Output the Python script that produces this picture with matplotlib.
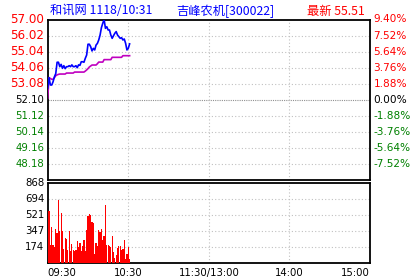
import matplotlib
matplotlib.use("Agg")
import matplotlib.pyplot as plt
import numpy as np

# minute-by-minute data, 09:30 -> 10:31
price = [52.8, 53.45, 53.0, 53.0, 53.2, 53.5, 53.7, 54.39, 54.39, 54.12,
         54.26, 54.02, 54.18, 54.0, 54.12, 54.12, 54.18, 54.12, 54.23, 54.12,
         54.12, 54.18, 54.06, 54.23, 54.2, 54.42, 54.42, 54.39, 54.63, 54.83,
         55.49, 55.49, 55.34, 55.08, 55.24, 55.14, 55.44, 55.54, 55.75, 56.05,
         56.50, 56.77, 57.0, 56.46, 56.56, 56.36, 56.36, 56.05, 55.85, 56.01,
         56.16, 56.26, 56.05, 55.95, 55.85, 55.89, 55.75, 55.81, 55.55, 55.14,
         55.24, 55.51]
avg_price = [52.2, 53.45, 53.40, 53.35, 53.35, 53.45, 53.57, 53.62, 53.65, 53.67,
             53.67, 53.67, 53.67, 53.67, 53.73, 53.73, 53.73, 53.73, 53.73, 53.73,
             53.79, 53.79, 53.79, 53.79, 53.79, 53.79, 53.79, 53.79, 53.85, 53.92,
             54.0, 54.10, 54.16, 54.22, 54.22, 54.22, 54.22, 54.30, 54.40, 54.40,
             54.40, 54.40, 54.55, 54.55, 54.55, 54.55, 54.55, 54.55, 54.69, 54.69,
             54.69, 54.69, 54.69, 54.69, 54.69, 54.69, 54.79, 54.79, 54.79, 54.79,
             54.79, 54.79]
volume = [868, 564, 195, 390, 195, 174, 369, 325, 683, 347,
          542, 347, 152, 271, 260, 141, 347, 130, 206, 141,
          130, 141, 239, 174, 217, 130, 184, 250, 130, 358,
          510, 532, 521, 445, 434, 98, 217, 184, 358, 336,
          369, 250, 293, 629, 195, 195, 184, 174, 293, 119,
          54, 87, 163, 184, 184, 141, 152, 250, 43, 98,
          174, 43]

prev_close = 52.10
step = 0.98
vol_max = 868
time_labels = ["09:30", "10:30", "11:30/13:00", "14:00", "15:00"]
time_pos = [0, 60, 120, 180, 240]

cjk = ["Noto Sans CJK SC", "DejaVu Sans"]
RED = "#ff0000"
GREEN = "#008000"
BLUE = "#0000ff"

fig = plt.figure(figsize=(4.2, 2.8), dpi=100)
fig.patch.set_facecolor("white")

W, H = 420.0, 280.0
x0, x1 = 47.7 / W, 370 / W
ax = fig.add_axes([x0, 1 - 180 / H, x1 - x0, (180 - 19.5) / H])
axv = fig.add_axes([x0, 1 - 263.3 / H, x1 - x0, (263.3 - 183.3) / H])

t = np.arange(len(price))

# price panel
levels = [prev_close + k * step for k in range(-5, 6)]
ax.set_xlim(0, 240)
ax.set_ylim(levels[0], levels[-1])
for k, lv in zip(range(-5, 6), levels):
    if k in (-5, 5):
        continue
    if k == 0:
        ax.axhline(lv, color="#909090", lw=0.8, ls=(0, (1, 1)), zorder=1)
    else:
        ax.axhline(lv, color="#c0c0c0", lw=0.8, ls=(0, (1, 2)), zorder=1)
for xp in [60, 120, 180]:
    ax.axvline(xp, color="#c0c0c0", lw=0.8, ls=(0, (1, 2)), zorder=1)

ax.plot(t, avg_price, color="#c000c0", lw=1.2, zorder=3)
ax.plot(t, price, color=BLUE, lw=1.2, zorder=4)

ax.set_xticks([])
ax.set_yticks([])
for k in range(5, -5, -1):
    lv = prev_close + k * step
    pct = k * step / prev_close * 100
    if k > 0:
        c, fs = RED, 8.6
    elif k == 0:
        c, fs = "black", 7.3
    else:
        c, fs = GREEN, 7.3
    ax.text(-2.5, lv, "%.2f" % lv, color=c, fontsize=fs, ha="right", va="center",
            transform=ax.transData, clip_on=False)
    ax.text(242.5, lv, "%.2f%%" % pct, color=c, fontsize=7.6, ha="left", va="center",
            transform=ax.transData, clip_on=False)

for sp in ax.spines.values():
    sp.set_linewidth(1.3)
    sp.set_color("black")

# volume panel
axv.bar(t, volume, width=0.9, color=RED, linewidth=0, zorder=3)
axv.set_xlim(0, 240)
axv.set_ylim(0, vol_max)
for k in range(1, 5):
    axv.axhline(vol_max * k / 5, color="#c0c0c0", lw=0.8, ls=(0, (1, 2)), zorder=1)
for xp in [60, 120, 180]:
    axv.axvline(xp, color="#c0c0c0", lw=0.8, ls=(0, (1, 2)), zorder=1)
axv.set_xticks([])
axv.set_yticks([])
for k in range(5, 0, -1):
    axv.text(-2.5, vol_max * k / 5, "%d" % round(vol_max * k / 5), color="black",
             fontsize=7.3, ha="right", va="center", clip_on=False)
for sp in axv.spines.values():
    sp.set_linewidth(1.3)
    sp.set_color("black")

for lab, xp in zip(time_labels, time_pos):
    ha = "center"
    if xp == 0:
        ha = "left"
    elif xp == 240:
        ha = "right"
    axv.text(xp, -0.06, lab, fontsize=7.3, ha=ha, va="top",
             transform=axv.get_xaxis_transform(), clip_on=False)

# header
fig.text(50 / W, 1 - 11 / H, "和讯网 1118/10:31", color=BLUE, fontsize=8.8,
         family=cjk, ha="left", va="center")
fig.text(176 / W, 1 - 11 / H, "吉峰农机[300022]", color=BLUE, fontsize=8.8,
         family=cjk, ha="left", va="center")
fig.text(307 / W, 1 - 11 / H, "最新 %.2f" % price[-1], color=RED, fontsize=8.8,
         family=cjk, ha="left", va="center")

fig.savefig("out.png", dpi=100)
